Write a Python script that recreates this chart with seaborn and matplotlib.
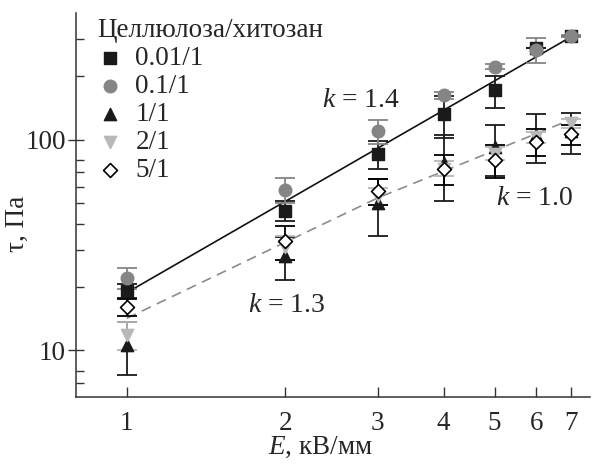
import numpy as np
import matplotlib
matplotlib.use("Agg")
import matplotlib.pyplot as plt
import seaborn as sns

E = [1, 2, 3, 4, 5, 6, 7]

# tau, Pa for each cellulose/chitosan ratio, with error bars
tau_001 = [19.2, 46, 86, 132, 172, 272, 310]
err_001 = [1.5, 5, 13, 30, 30, 0, 0]
tau_01 = [22, 58, 110, 163, 222, 268, 312]
err_01 = [2.5, 8, 14, 6, 6, 36, 4]
tau_1 = [10.6, 28, 50, 78, 92, 105, 110]
err_1 = [3, 6.5, 15, 27, 25, 27, 24]
tau_2 = [11.8, 31, 54, 73, 86, 103, 120]
err_2 = [1.8, 4, 5, 6, 6, 6, 6]
tau_5 = [16, 33, 57, 73, 80, 98, 106]
err_5 = [1.5, 6, 8, 12, 14, 14, 12]

labels = ["0.01/1", "0.1/1", "1/1", "2/1", "5/1"]

# fitted lines (vertices)
solid_x = [1, 7]
solid_y = [18.8, 309]
dash_x = [1, 3, 7]
dash_y = [14.2, 53, 125]

sns.set_style("ticks")
plt.rcParams['font.family'] = ['Liberation Serif', 'DejaVu Serif']
plt.rcParams['mathtext.fontset'] = 'custom'
plt.rcParams['mathtext.rm'] = 'Liberation Serif'
plt.rcParams['mathtext.it'] = 'Liberation Serif:italic'

FS = 19.5

fig = plt.figure(figsize=(5.92, 4.65), dpi=100)
ax = fig.add_axes([0.128, 0.146, 0.869, 0.826])

sns.lineplot(x=solid_x, y=solid_y, ax=ax, color="#111111", lw=1.2, zorder=2)
sns.lineplot(x=dash_x, y=dash_y, ax=ax, color="#8c8c8c", lw=1.2, zorder=2,
             linestyle=(0, (6, 4)))

series = [
    (tau_001, err_001, "s", "#1a1a1a", "#1a1a1a", "#1a1a1a", 1),
    (tau_01, err_01, "o", "#858585", "#858585", "#858585", 1),
    (tau_1, err_1, "^", "#1a1a1a", "#1a1a1a", "#1a1a1a", 1),
    (tau_2, err_2, "v", "#b8b8b8", "#b8b8b8", "#b8b8b8", 1),
    (tau_5, err_5, "D", "white", "black", "black", 1.2),
]
sizes = {"s": 66, "o": 82, "^": 78, "v": 78, "D": 50}

handles = []
for (y, err, m, fc, ec, cc, lw), lab in zip(series, labels):
    ax.errorbar(E, y, yerr=err, fmt="none", ecolor=cc, elinewidth=1.3,
                capsize=7, capthick=1.3, zorder=3)
    sns.scatterplot(x=E, y=y, ax=ax, marker=m, s=sizes[m], color=fc,
                    edgecolor=ec, linewidth=lw, zorder=4, legend=False)
    handles.append(ax.scatter([], [], marker=m, s=sizes[m], color=fc,
                              edgecolor=ec, linewidth=lw, label=lab))

ax.set_xscale("log")
ax.set_yscale("log")
ax.set_xlim(0.8, 7.6)
ax.set_ylim(6, 400)

ax.set_xticks(E)
ax.set_xticklabels([str(v) for v in E])
ax.xaxis.set_minor_locator(matplotlib.ticker.NullLocator())
ax.set_yticks([10, 100])
ax.set_yticklabels(["10", "100"])
ax.set_yticks([7, 8, 20, 30, 40, 50, 60, 70, 80, 200, 300], minor=True)
ax.yaxis.set_minor_formatter(matplotlib.ticker.NullFormatter())

ax.tick_params(axis="x", which="major", direction="in", length=7, width=1,
               labelsize=FS, pad=10, color="#333333")
ax.tick_params(axis="y", which="major", direction="inout", length=12, width=1,
               labelsize=FS, pad=1, color="#333333")
ax.tick_params(axis="y", which="minor", direction="in", length=6, width=1,
               color="#333333")

for s in ["top", "right"]:
    ax.spines[s].set_visible(False)
for s in ["left", "bottom"]:
    ax.spines[s].set_linewidth(1.1)
    ax.spines[s].set_color("#333333")

ax.set_xlabel("$E$, кВ/мм", fontsize=FS)
ax.set_ylabel("τ, Па", fontsize=FS)
ax.xaxis.set_label_coords(0.475, -0.098)
ax.yaxis.set_label_coords(-0.09, 0.45)

ax.text(2.35, 153, "$k$ = 1.4", fontsize=20, va="center")
ax.text(1.70, 16.3, "$k$ = 1.3", fontsize=20, va="center")
ax.text(5.04, 52.6, "$k$ = 1.0", fontsize=20, va="center")

leg = ax.legend(handles=handles, title="Целлюлоза/хитозан", loc="upper left",
                bbox_to_anchor=(0.042, 0.987), frameon=False, fontsize=FS,
                title_fontsize=FS, handletextpad=0.5, labelspacing=0.11,
                borderpad=0.0, borderaxespad=0.0, handlelength=0.9)
leg._legend_box.align = "left"

fig.savefig("out.png", dpi=100)
